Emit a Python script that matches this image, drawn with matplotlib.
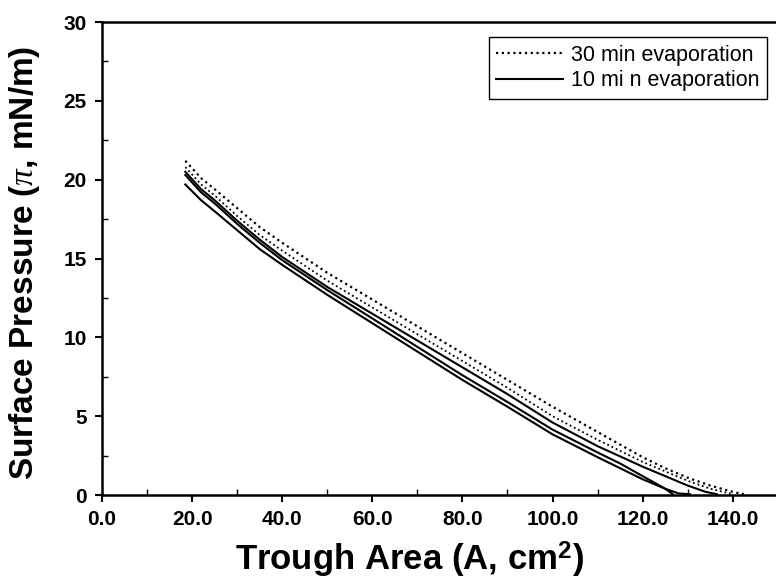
import matplotlib
matplotlib.use("Agg")
import matplotlib.pyplot as plt
from matplotlib.ticker import MultipleLocator

plt.rcParams['font.family'] = ['Liberation Sans', 'DejaVu Sans']
plt.rcParams['mathtext.fontset'] = 'custom'
plt.rcParams['mathtext.rm'] = 'Liberation Sans:bold'
plt.rcParams['mathtext.bf'] = 'Liberation Sans:bold'
plt.rcParams['mathtext.it'] = 'Liberation Serif:italic'

# 30 min evaporation (dotted), two traces
area_d1 = [18.5, 22, 25, 30, 35, 40, 50, 60, 70, 80, 90, 100, 110, 120, 125, 130, 135, 140, 142.5]
pres_d1 = [21.2, 20.1, 19.4, 18.2, 17.0, 16.0, 14.1, 12.4, 10.7, 9.0, 7.3, 5.6, 4.0, 2.4, 1.7, 1.1, 0.6, 0.2, 0.05]
area_d2 = [18.5, 22, 25, 30, 35, 40, 50, 60, 70, 80, 90, 100, 110, 120, 125, 130, 135, 140]
pres_d2 = [20.8, 19.7, 19.0, 17.7, 16.5, 15.5, 13.6, 11.9, 10.2, 8.5, 6.8, 5.0, 3.5, 2.1, 1.5, 0.9, 0.4, 0.05]

# 10 min evaporation (solid), three traces
area_s1 = [18.5, 22, 25, 30, 35, 40, 50, 60, 70, 80, 90, 100, 110, 120, 125, 130, 134, 136.5]
pres_s1 = [20.5, 19.4, 18.7, 17.4, 16.2, 15.1, 13.2, 11.5, 9.8, 8.1, 6.4, 4.6, 3.1, 1.8, 1.2, 0.6, 0.2, 0.05]
area_s2 = [18.5, 22, 25, 30, 35, 40, 50, 60, 70, 80, 90, 100, 110, 115, 120, 125, 128, 130.5]
pres_s2 = [20.3, 19.2, 18.5, 17.2, 16.0, 14.9, 13.0, 11.2, 9.4, 7.6, 5.9, 4.15, 2.7, 2.0, 1.2, 0.4, 0.1, 0.05]
area_s3 = [18.5, 22, 25, 30, 35, 40, 50, 60, 70, 80, 90, 100, 110, 115, 120, 125, 126.7]
pres_s3 = [19.7, 18.7, 18.0, 16.8, 15.6, 14.6, 12.7, 10.9, 9.1, 7.3, 5.6, 3.85, 2.4, 1.7, 1.0, 0.4, 0.05]

xticks = [0, 20, 40, 60, 80, 100, 120, 140]
xticklabels = ['0.0', '20.0', '40.0', '60.0', '80.0', '100.0', '120.0', '140.0']
yticks = [0, 5, 10, 15, 20, 25, 30]

fig = plt.figure(figsize=(7.76, 5.81), dpi=100)
ax = fig.add_axes([0.1314, 0.148, 0.868, 0.814])

dot = (0, (1, 1.6))
ax.plot(area_d1, pres_d1, color='black', lw=1.6, linestyle=dot, label='30 min evaporation')
ax.plot(area_d2, pres_d2, color='black', lw=1.3, linestyle=dot)
ax.plot(area_s1, pres_s1, color='black', lw=1.5, label='10 mi n evaporation')
ax.plot(area_s2, pres_s2, color='black', lw=1.5)
ax.plot(area_s3, pres_s3, color='black', lw=1.5)

ax.set_xlim(0, 149.5)
ax.set_ylim(0, 30)
ax.set_xticks(xticks)
ax.set_xticklabels(xticklabels)
ax.set_yticks(yticks)
ax.xaxis.set_minor_locator(MultipleLocator(10))
ax.yaxis.set_minor_locator(MultipleLocator(2.5))

ax.tick_params(which='major', direction='out', length=5, width=1.5, labelsize=15, pad=6)
ax.tick_params(which='minor', direction='in', length=4, width=1.0)
for lab in ax.get_xticklabels() + ax.get_yticklabels():
    lab.set_fontweight('bold')

ax.spines['right'].set_visible(False)
for s in ['left', 'bottom', 'top']:
    ax.spines[s].set_linewidth(1.8)

ax.set_xlabel('Trough Area (A, cm$^{2}$)', fontsize=25, fontweight='bold')
ax.set_ylabel('Surface Pressure ($\\pi$, mN/m)', fontsize=24, fontweight='bold')
ax.xaxis.set_label_coords(0.457, -0.095)
ax.yaxis.set_label_coords(-0.089, 0.49)

leg = ax.legend(loc='upper right', bbox_to_anchor=(0.988, 0.968), borderaxespad=0,
                fontsize=15.5, handlelength=3.1, handletextpad=0.4, fancybox=False,
                framealpha=1, edgecolor='black', borderpad=0.35, labelspacing=0.2)
leg.get_frame().set_linewidth(1.0)

fig.savefig('out.png', dpi=100)
